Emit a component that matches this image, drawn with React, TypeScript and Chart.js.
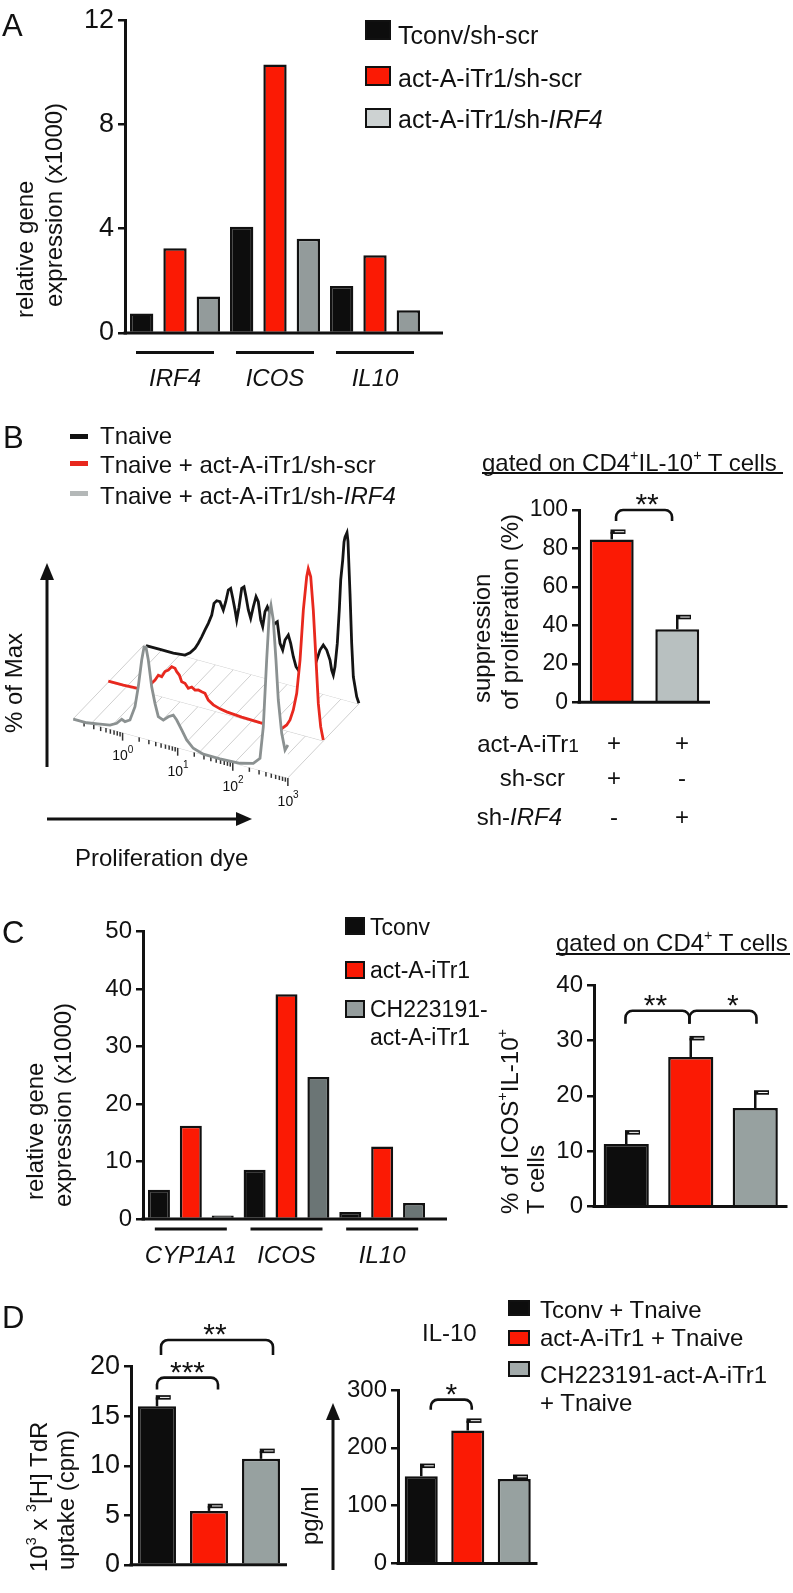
import React, { useEffect, useRef } from 'react';
import { Chart, registerables } from 'chart.js';
Chart.register(...registerables);

const FONT = '"Liberation Sans", Arial, Helvetica, sans-serif';
const INK = '#111111';
const BLACK = '#0d0d0d';
const RED = '#fb1a04';
Chart.defaults.font.family = FONT;
Chart.defaults.color = INK;

// ---------- Panel A ----------
const A_GENES = ['IRF4', 'ICOS', 'IL10'];
const A_TCONV_SHSCR = [0.75, 4.08, 1.8];
const A_ITR1_SHSCR = [3.25, 10.3, 2.98];
const A_ITR1_SHIRF4 = [1.4, 3.62, 0.87];
const A_Y_MAX = 12;
const A_Y_STEP = 4;

// ---------- Panel B (histogram, log10 position vs % of max) ----------
const HIST_BLACK_LOG = [-0.864, -0.61, -0.368, -0.156, -0.065, 0.026, 0.085, 0.147, 0.207, 0.267, 0.329, 0.37, 0.419, 0.479, 0.539, 0.583, 0.63, 0.673, 0.71, 0.752, 0.782, 0.824, 0.873, 0.915, 0.951, 0.993, 1.036, 1.084, 1.133, 1.174, 1.218, 1.254, 1.296, 1.338, 1.387, 1.436, 1.477, 1.519, 1.568, 1.617, 1.659, 1.719, 1.762, 1.81, 1.859, 1.9, 1.944, 1.98, 2.07, 2.173, 2.234, 2.294, 2.354, 2.416, 2.476, 2.506, 2.536, 2.566, 2.608, 2.644, 2.67, 2.706, 2.73, 2.748, 2.784, 2.802, 2.839, 2.869, 2.899, 2.96, 3.0];
const HIST_BLACK_PCT = [0, 0, 0, 0.7, 2.9, 6.4, 9.9, 14.3, 18.9, 23.4, 28.9, 36.2, 38.2, 38.2, 33.7, 39.1, 46.5, 47.9, 42.4, 35.7, 30, 38, 49.7, 51, 45.4, 37.9, 33.3, 40.6, 47, 44.4, 33.9, 30.3, 39.6, 42.9, 39.4, 31.9, 34.3, 35.6, 23.2, 19.6, 26, 29.5, 24.9, 17.4, 11.9, 10.3, 12.7, 17, 16, 12.7, 19.2, 25.7, 29.2, 26.8, 21.4, 15.7, 13, 18.2, 32.5, 52.7, 70.8, 83, 94, 97, 100, 95, 64, 34.9, 15.2, 3.9, 0.4];
const HIST_RED_LOG = [-0.904, -0.631, -0.388, -0.2, -0.056, 0.004, 0.066, 0.125, 0.185, 0.247, 0.307, 0.338, 0.385, 0.428, 0.488, 0.548, 0.61, 0.67, 0.73, 0.791, 0.851, 0.911, 1.002, 1.124, 1.245, 1.517, 1.85, 2.243, 2.334, 2.394, 2.454, 2.516, 2.576, 2.636, 2.697, 2.726, 2.77, 2.817, 2.866, 2.908, 2.951, 2.998];
const HIST_RED_PCT = [0.5, 0.5, 1, 3, 8.8, 12.2, 11.8, 15.4, 16.9, 19.4, 19, 17.3, 15.7, 12.1, 11.7, 9.3, 10.6, 9.3, 9.9, 9.4, 9, 5.5, 3.5, 2.2, 1.5, 0.8, 0.5, 0.5, 3.5, 7, 13.5, 24, 44.3, 74.6, 95, 100, 95.7, 76.2, 47, 21.5, 8, 0.5];
const HIST_GRAY_LOG = [-0.895, -0.651, -0.41, -0.228, -0.107, -0.016, 0.044, 0.134, 0.225, 0.285, 0.347, 0.389, 0.425, 0.467, 0.528, 0.588, 0.648, 0.739, 0.83, 0.92, 0.982, 1.073, 1.163, 1.283, 1.465, 1.768, 2.131, 2.372, 2.494, 2.554, 2.615, 2.663, 2.693, 2.735, 2.784, 2.826, 2.888, 2.948, 3.0];
const HIST_GRAY_PCT = [0, 0, 1.4, 2.4, 4.6, 7.8, 6.9, 8.7, 17.4, 29.9, 46.3, 54.3, 54.6, 47.4, 32, 22.7, 15.3, 14.1, 16.9, 18.7, 16.3, 11.2, 6.1, 2.2, 0.3, 0.3, 0.9, 3, 7.1, 26.4, 66.7, 94.9, 100, 91.6, 68.2, 44.8, 25.5, 16.1, 19.6];
const HIST_DECADES = [0, 1, 2, 3];

// ---------- Panel B (suppression) ----------
const B_GROUPS = ['act-A-iTr1/sh-scr', 'act-A-iTr1/sh-IRF4'];
const B_SUPPRESSION = [84.7, 37.9];
const B_SUPPRESSION_SEM = [4, 6.4];

// ---------- Panel C ----------
const C_GENES = ['CYP1A1', 'ICOS', 'IL10'];
const C_TCONV = [5.1, 8.55, 1.2];
const C_ITR1 = [16.2, 39.1, 12.6];
const C_CH_ITR1 = [0.6, 24.7, 2.8];
const C_GROUPS = ['Tconv', 'act-A-iTr1', 'CH223191-act-A-iTr1'];
const C_ICOS_IL10 = [11.3, 27, 17.8];
const C_ICOS_IL10_SEM = [2.1, 3.4, 2.8];

// ---------- Panel D ----------
const D_GROUPS = ['Tconv + Tnaive', 'act-A-iTr1 + Tnaive', 'CH223191-act-A-iTr1 + Tnaive'];
const D_THYMIDINE = [16, 5.44, 10.7];
const D_THYMIDINE_SEM = [0.9, 0.5, 0.8];
const D_IL10 = [151, 230, 146];
const D_IL10_SEM = [18, 17, 4];

// ---------- bar chart factory ----------
type Br = { a: number; b: number; dxa: number; dxb: number; top: number; drop: number; label: string; ldx: number };
type Ser = { data: number[]; color: string | string[]; sem?: number[] };
type BarSpec = {
  labels: string[]; series: Ser[]; yMax: number; step: number; tickFs: number;
  yW: number; padTop: number; padRight: number; xH: number; barPct: number;
  ext?: number; brackets?: Br[]; groups?: { fs: number; labelDy: number; lineDy: number; half: number };
};

function makeBarConfig(s: BarSpec) {
  const plugin = {
    id: 'extras',
    afterDatasetsDraw(chart: any) {
      const { ctx, chartArea: ca, scales } = chart;
      const ys = scales.y;
      const xs = scales.x;
      ctx.save();
      ctx.strokeStyle = INK;
      ctx.lineWidth = 3;
      ctx.beginPath();
      ctx.moveTo(ca.left - 1.5, ca.bottom);
      ctx.lineTo(ca.right + (s.ext || 0), ca.bottom);
      ctx.stroke();
      s.series.forEach((ser, di) => {
        if (!ser.sem) return;
        const meta = chart.getDatasetMeta(di);
        meta.data.forEach((bar: any, i: number) => {
          const yTop = ys.getPixelForValue(ser.data[i]);
          const yCap = ys.getPixelForValue(ser.data[i] + ser.sem![i]);
          const cx = bar.x;
          ctx.strokeStyle = INK;
          ctx.lineWidth = 2.5;
          ctx.beginPath();
          ctx.moveTo(cx, yTop);
          ctx.lineTo(cx, yCap);
          ctx.stroke();
          ctx.fillStyle = INK;
          ctx.fillRect(cx - 1.25, yCap - 2.25, 15, 4.5);
          ctx.strokeStyle = '#ffffff';
          ctx.lineWidth = 1;
          ctx.beginPath();
          ctx.moveTo(cx + 3, yCap);
          ctx.lineTo(cx + 12.5, yCap);
          ctx.stroke();
        });
      });
      (s.brackets || []).forEach((b) => {
        const meta = chart.getDatasetMeta(0);
        const x1 = meta.data[b.a].x + b.dxa;
        const x2 = meta.data[b.b].x + b.dxb;
        const yt = ys.getPixelForValue(b.top);
        const yb = yt + b.drop;
        const r = 7;
        ctx.strokeStyle = INK;
        ctx.lineWidth = 2.6;
        ctx.beginPath();
        ctx.moveTo(x1, yb);
        ctx.arcTo(x1, yt, x1 + r, yt, r);
        ctx.arcTo(x2, yt, x2, yb, r);
        ctx.lineTo(x2, yb);
        ctx.stroke();
        ctx.fillStyle = INK;
        ctx.font = `30px ${FONT}`;
        ctx.textAlign = 'center';
        ctx.textBaseline = 'alphabetic';
        ctx.fillText(b.label, (x1 + x2) / 2 + b.ldx, yt - 13 + 17);
      });
      if (s.groups) {
        const g = s.groups;
        ctx.fillStyle = INK;
        s.labels.forEach((lab, i) => {
          const cx = xs.getPixelForValue(i);
          ctx.fillRect(cx - g.half, ca.bottom + g.lineDy - 1.5, g.half * 2, 3);
          ctx.font = `italic ${g.fs}px ${FONT}`;
          ctx.textAlign = 'center';
          ctx.textBaseline = 'alphabetic';
          ctx.fillText(lab, cx, ca.bottom + g.labelDy + 0.358 * g.fs);
        });
      }
      ctx.restore();
    },
  };
  return {
    type: 'bar',
    data: {
      labels: s.labels,
      datasets: s.series.map((ser) => ({
        data: ser.data,
        backgroundColor: ser.color,
        borderColor: INK,
        borderWidth: 2.5,
        borderSkipped: 'start',
        categoryPercentage: 1,
        barPercentage: s.barPct,
      })),
    },
    options: {
      responsive: false,
      animation: false,
      devicePixelRatio: 1,
      events: [],
      layout: { padding: { top: s.padTop, right: s.padRight, left: 0, bottom: 0 }, autoPadding: false },
      plugins: { legend: { display: false }, tooltip: { enabled: false } },
      scales: {
        x: {
          grid: { display: false },
          border: { display: false },
          ticks: { display: false },
          afterFit: (sc: any) => { sc.height = s.xH; },
        },
        y: {
          min: 0,
          max: s.yMax,
          ticks: { stepSize: s.step, font: { size: s.tickFs, family: FONT }, color: INK, padding: 4 },
          grid: { display: true, drawOnChartArea: false, drawTicks: true, tickLength: 7, color: INK, lineWidth: 2.5 },
          border: { display: true, color: INK, width: 3 },
          afterFit: (sc: any) => { sc.width = s.yW; },
        },
      },
    },
    plugins: [plugin],
  };
}

// ---------- histogram (layered, projected) ----------
const H_L_MIN = -0.9;
const H_L_MAX = 3.0;
const H_DEPTH_DX = 1.289;
const H_DEPTH_DY = 44.05;
const H_SLOPE = 8.99;
const H_X_MIN = -1.136;
const H_X_MAX = 4.672;
const H_Y_MIN = -60.12;
const H_Y_MAX = 130.36;
const HIST_DEPTHS = [0, 0.5, 1];
const proj = (L: number, d: number, h: number) => ({ x: L + d * H_DEPTH_DX, y: h - (L - H_L_MIN) * H_SLOPE + d * H_DEPTH_DY });

function makeHistConfig() {
  const sets = [
    { logs: HIST_GRAY_LOG, pct: HIST_GRAY_PCT, depth: 0, color: '#8b9191', order: 1 },
    { logs: HIST_RED_LOG, pct: HIST_RED_PCT, depth: 0.5, color: '#e8281e', order: 2 },
    { logs: HIST_BLACK_LOG, pct: HIST_BLACK_PCT, depth: 1, color: '#141414', order: 3 },
  ];
  const floorL: number[] = [];
  for (let k = 0; k <= 12; k++) floorL.push(H_L_MIN + (k * (H_L_MAX - H_L_MIN)) / 12);
  const minor: number[] = [];
  for (let n = -1; n < 3; n++) for (let m = 2; m <= 9; m++) { const L = n + Math.log10(m); if (L >= H_L_MIN) minor.push(L); }
  const plugin = {
    id: 'histFloor',
    beforeDatasetsDraw(chart: any) {
      const { ctx, scales } = chart;
      const P = (L: number, d: number) => { const v = proj(L, d, 0); return [scales.x.getPixelForValue(v.x), scales.y.getPixelForValue(v.y)]; };
      const seg = (a: number[], b: number[]) => { ctx.beginPath(); ctx.moveTo(a[0], a[1]); ctx.lineTo(b[0], b[1]); ctx.stroke(); };
      ctx.save();
      ctx.strokeStyle = '#cfcfcf';
      ctx.lineWidth = 1;
      floorL.forEach((L) => seg(P(L, 0), P(L, 1)));
      HIST_DEPTHS.forEach((d) => seg(P(H_L_MIN, d), P(H_L_MAX, d)));
      ctx.strokeStyle = '#333333';
      ctx.lineWidth = 1.5;
      minor.forEach((L) => { const p = P(L, 0); seg(p, [p[0], p[1] + 4.5]); });
      ctx.fillStyle = INK;
      HIST_DECADES.forEach((L) => {
        const p = P(L, 0);
        seg(p, [p[0], p[1] + 8]);
        ctx.font = `14px ${FONT}`;
        ctx.textAlign = 'center';
        ctx.textBaseline = 'middle';
        ctx.fillText('10', p[0] - 2.5, p[1] + 24);
        ctx.font = `10px ${FONT}`;
        ctx.fillText(String(L), p[0] + 8, p[1] + 17.5);
      });
      ctx.restore();
    },
    beforeDatasetDraw(chart: any, args: any) {
      const st = sets[args.index];
      const pts = args.meta.data;
      if (!pts.length) return;
      const { ctx, scales } = chart;
      const bEnd = proj(st.logs[st.logs.length - 1], st.depth, 0);
      const bStart = proj(st.logs[0], st.depth, 0);
      ctx.save();
      ctx.fillStyle = '#ffffff';
      ctx.beginPath();
      ctx.moveTo(pts[0].x, pts[0].y);
      for (let i = 1; i < pts.length; i++) ctx.lineTo(pts[i].x, pts[i].y);
      ctx.lineTo(scales.x.getPixelForValue(bEnd.x), scales.y.getPixelForValue(bEnd.y));
      ctx.lineTo(scales.x.getPixelForValue(bStart.x), scales.y.getPixelForValue(bStart.y));
      ctx.closePath();
      ctx.fill();
      ctx.restore();
    },
  };
  return {
    type: 'scatter',
    data: {
      datasets: sets.map((st) => ({
        data: st.logs.map((L, i) => proj(L, st.depth, st.pct[i])),
        showLine: true,
        pointRadius: 0,
        borderWidth: 2.8,
        borderColor: st.color,
        tension: 0,
        fill: false,
        order: st.order,
      })),
    },
    options: {
      responsive: false,
      animation: false,
      devicePixelRatio: 1,
      events: [],
      layout: { padding: 0, autoPadding: false },
      plugins: { legend: { display: false }, tooltip: { enabled: false } },
      scales: {
        x: { type: 'linear', display: false, min: H_X_MIN, max: H_X_MAX },
        y: { type: 'linear', display: false, min: H_Y_MIN, max: H_Y_MAX },
      },
    },
    plugins: [plugin],
  };
}

// ---------- components ----------
function ChartCanvas({ left, top, width, height, make }: any) {
  const ref = useRef<HTMLCanvasElement>(null);
  useEffect(() => {
    const chart = new Chart(ref.current as HTMLCanvasElement, make());
    return () => chart.destroy();
  }, []);
  return <canvas ref={ref} width={width} height={height} style={{ position: 'absolute', left, top, width, height }} />;
}

function Txt({ x, y, fs, a = 'l', it, children }: any) {
  const tx = a === 'c' ? 'translateX(-50%)' : a === 'r' ? 'translateX(-100%)' : 'none';
  return (
    <div style={{ position: 'absolute', left: x, top: y - 0.4885 * fs, fontSize: fs, lineHeight: `${fs}px`, fontFamily: FONT, fontStyle: it ? 'italic' : 'normal', whiteSpace: 'nowrap', color: INK, transform: tx }}>
      {children}
    </div>
  );
}

function VTxt({ x, y, fs, children }: any) {
  return (
    <div style={{ position: 'absolute', left: x - 0.4885 * fs, top: y, fontSize: fs, lineHeight: `${fs}px`, fontFamily: FONT, whiteSpace: 'nowrap', color: INK, transformOrigin: '0 0', transform: 'rotate(-90deg)' }}>
      {children}
    </div>
  );
}

const Sup = ({ children }: any) => <span style={{ fontSize: '0.6em', position: 'relative', top: '-0.75em' }}>{children}</span>;
const I = ({ children }: any) => <span style={{ fontStyle: 'italic' }}>{children}</span>;

function Box({ x, y, w, h, color }: any) {
  return <div style={{ position: 'absolute', left: x, top: y, width: w, height: h, boxSizing: 'border-box', border: `2.5px solid ${INK}`, background: color }} />;
}
function Rect({ x, y, w, h, color }: any) {
  return <div style={{ position: 'absolute', left: x, top: y, width: w, height: h, background: color }} />;
}

export default function App() {
  const cfgA = () => makeBarConfig({
    labels: A_GENES,
    series: [
      { data: A_TCONV_SHSCR, color: BLACK },
      { data: A_ITR1_SHSCR, color: RED },
      { data: A_ITR1_SHIRF4, color: '#939b9b' },
    ],
    yMax: A_Y_MAX, step: A_Y_STEP, tickFs: 27, yW: 125, padTop: 15, padRight: 25, xH: 62, barPct: 0.7, ext: 18,
    groups: { fs: 24, labelDy: 44, lineDy: 19.5, half: 39 },
  });
  const cfgB = () => makeBarConfig({
    labels: B_GROUPS,
    series: [{ data: B_SUPPRESSION, sem: B_SUPPRESSION_SEM, color: [RED, '#b8c0c0'] }],
    yMax: 100, step: 20, tickFs: 23, yW: 159, padTop: 30, padRight: 10, xH: 7, barPct: 0.67,
    brackets: [{ a: 0, b: 1, dxa: 4.3, dxb: -5.2, top: 100, drop: 11, label: '**', ldx: 3 }],
  });
  const cfgC1 = () => makeBarConfig({
    labels: C_GENES,
    series: [
      { data: C_TCONV, color: BLACK },
      { data: C_ITR1, color: RED },
      { data: C_CH_ITR1, color: '#6b7575' },
    ],
    yMax: 50, step: 10, tickFs: 24, yW: 143, padTop: 21.5, padRight: 30, xH: 51, barPct: 0.69, ext: 17,
    groups: { fs: 24, labelDy: 35, lineDy: 10, half: 36 },
  });
  const cfgC2 = () => makeBarConfig({
    labels: C_GROUPS,
    series: [{ data: C_ICOS_IL10, sem: C_ICOS_IL10_SEM, color: [BLACK, RED, '#97a1a0'] }],
    yMax: 40, step: 10, tickFs: 24, yW: 74, padTop: 20, padRight: 5.5, xH: 9, barPct: 0.7,
    brackets: [
      { a: 0, b: 1, dxa: -0.8, dxb: -1.3, top: 35.35, drop: 13, label: '**', ldx: -2 },
      { a: 1, b: 2, dxa: -1.3, dxb: 1.2, top: 35.35, drop: 13, label: '*', ldx: 10 },
    ],
  });
  const cfgD1 = () => makeBarConfig({
    labels: D_GROUPS,
    series: [{ data: D_THYMIDINE, sem: D_THYMIDINE_SEM, color: [BLACK, RED, '#97a1a0'] }],
    yMax: 20, step: 5, tickFs: 27, yW: 131, padTop: 76.7, padRight: 13, xH: 10, barPct: 0.73,
    brackets: [
      { a: 0, b: 1, dxa: 0, dxb: 9, top: 18.9, drop: 12, label: '***', ldx: 0 },
      { a: 0, b: 2, dxa: 4, dxb: 12, top: 22.7, drop: 15, label: '**', ldx: -2 },
    ],
  });
  const cfgD2 = () => makeBarConfig({
    labels: D_GROUPS,
    series: [{ data: D_IL10, sem: D_IL10_SEM, color: [BLACK, RED, '#97a1a0'] }],
    yMax: 300, step: 100, tickFs: 24, yW: 58, padTop: 20, padRight: 12.5, xH: 10.3, barPct: 0.71,
    brackets: [{ a: 0, b: 1, dxa: 9.5, dxb: 4, top: 283.3, drop: 10, label: '*', ldx: 0 }],
  });

  return (
    <div style={{ position: 'absolute', left: 0, top: 0, width: 793, height: 1593, background: '#ffffff', overflow: 'hidden', fontFamily: FONT, color: INK }}>
      <ChartCanvas left={0} top={0} width={450} height={395} make={cfgA} />
      <ChartCanvas left={60} top={500} width={320} height={320} make={makeHistConfig} />
      <ChartCanvas left={420} top={480} width={300} height={240} make={cfgB} />
      <ChartCanvas left={0} top={910} width={460} height={360} make={cfgC1} />
      <ChartCanvas left={520} top={965} width={273} height={260} make={cfgC2} />
      <ChartCanvas left={0} top={1290} width={300} height={295} make={cfgD1} />
      <ChartCanvas left={340} top={1370} width={210} height={212} make={cfgD2} />

      <svg width={793} height={1593} style={{ position: 'absolute', left: 0, top: 0, pointerEvents: 'none' }}>
        <line x1={47} y1={767} x2={47} y2={578} stroke={INK} strokeWidth={3} />
        <polygon points="40,580 54,580 47,563" fill={INK} />
        <line x1={47} y1={819} x2={238} y2={819} stroke={INK} strokeWidth={3} />
        <polygon points="236,812 236,826 252,819" fill={INK} />
        <line x1={333} y1={1570} x2={333} y2={1418} stroke={INK} strokeWidth={3} />
        <polygon points="326,1420 340,1420 333,1403" fill={INK} />
      </svg>

      {/* Panel A */}
      <Txt x={2} y={25} fs={31}>A</Txt>
      <VTxt x={25} y={318} fs={24}>relative gene</VTxt>
      <VTxt x={54} y={307} fs={24}>expression (x1000)</VTxt>
      <Box x={365} y={20} w={26} h={20} color={BLACK} />
      <Box x={365} y={66} w={26} h={20} color={RED} />
      <Box x={365} y={108} w={26} h={20} color="#cdd2d2" />
      <Txt x={398} y={35} fs={25}>Tconv/sh-scr</Txt>
      <Txt x={398} y={78} fs={25}>act-A-iTr1/sh-scr</Txt>
      <Txt x={398} y={119} fs={25}>act-A-iTr1/sh-<I>IRF4</I></Txt>

      {/* Panel B */}
      <Txt x={3} y={437} fs={31}>B</Txt>
      <Rect x={70} y={434} w={18} h={5} color={INK} />
      <Rect x={70} y={461} w={18} h={5} color="#e8281e" />
      <Rect x={70} y={491} w={18} h={5} color="#b4b8b8" />
      <Txt x={100} y={436} fs={24}>Tnaive</Txt>
      <Txt x={100} y={465} fs={24}>Tnaive + act-A-iTr1/sh-scr</Txt>
      <Txt x={100} y={496} fs={24}>Tnaive + act-A-iTr1/sh-<I>IRF4</I></Txt>
      <VTxt x={13.5} y={733} fs={24}>% of Max</VTxt>
      <Txt x={75} y={858} fs={24}>Proliferation dye</Txt>
      <Txt x={482} y={462.5} fs={24}>gated on CD4<Sup>+</Sup>IL-10<Sup>+</Sup> T cells</Txt>
      <Rect x={482} y={472} w={301} h={2} color={INK} />
      <VTxt x={481.5} y={703} fs={24}>suppression</VTxt>
      <VTxt x={509.5} y={710} fs={24}>of proliferation (%)</VTxt>
      <Txt x={579} y={744} fs={24} a="r">act-A-iTr<span style={{ fontSize: '0.8em' }}>1</span></Txt>
      <Txt x={565} y={778} fs={24} a="r">sh-scr</Txt>
      <Txt x={562} y={817} fs={24} a="r">sh-<I>IRF4</I></Txt>
      <Txt x={614} y={743} fs={24} a="c">+</Txt>
      <Txt x={682} y={743} fs={24} a="c">+</Txt>
      <Txt x={614} y={778} fs={24} a="c">+</Txt>
      <Txt x={682} y={778} fs={24} a="c">-</Txt>
      <Txt x={614} y={817} fs={24} a="c">-</Txt>
      <Txt x={682} y={817} fs={24} a="c">+</Txt>

      {/* Panel C */}
      <Txt x={2} y={932} fs={31}>C</Txt>
      <VTxt x={35} y={1200} fs={24}>relative gene</VTxt>
      <VTxt x={63} y={1207} fs={24}>expression (x1000)</VTxt>
      <Box x={345} y={917} w={20} h={18} color={BLACK} />
      <Box x={345} y={961} w={20} h={18} color={RED} />
      <Box x={345} y={1000} w={20} h={18} color="#949c9c" />
      <Txt x={370} y={927} fs={23}>Tconv</Txt>
      <Txt x={370} y={970} fs={23}>act-A-iTr1</Txt>
      <Txt x={370} y={1009} fs={23}>CH223191-</Txt>
      <Txt x={370} y={1037} fs={23}>act-A-iTr1</Txt>
      <Txt x={556} y={942.5} fs={24}>gated on CD4<Sup>+</Sup> T cells</Txt>
      <Rect x={556} y={953} w={234} h={2} color={INK} />
      <VTxt x={510} y={1214} fs={24}>% of ICOS<Sup>+</Sup>IL-10<Sup>+</Sup></VTxt>
      <VTxt x={536} y={1214} fs={24}>T cells</VTxt>

      {/* Panel D */}
      <Txt x={2} y={1317} fs={31}>D</Txt>
      <VTxt x={39} y={1572} fs={24}>10<Sup>3</Sup> x <Sup>3</Sup>[H] TdR</VTxt>
      <VTxt x={66} y={1570} fs={24}>uptake (cpm)</VTxt>
      <Txt x={422} y={1333} fs={24}>IL-10</Txt>
      <VTxt x={309.5} y={1545} fs={24}>pg/ml</VTxt>
      <Box x={508} y={1300} w={22} h={16} color={BLACK} />
      <Box x={508} y={1330} w={22} h={16} color={RED} />
      <Box x={508} y={1361} w={22} h={16} color="#a3abab" />
      <Txt x={540} y={1310} fs={24}>Tconv + Tnaive</Txt>
      <Txt x={540} y={1338} fs={24}>act-A-iTr1 + Tnaive</Txt>
      <Txt x={540} y={1374.5} fs={24}>CH223191-act-A-iTr1</Txt>
      <Txt x={540} y={1402.5} fs={24}>+ Tnaive</Txt>
    </div>
  );
}
